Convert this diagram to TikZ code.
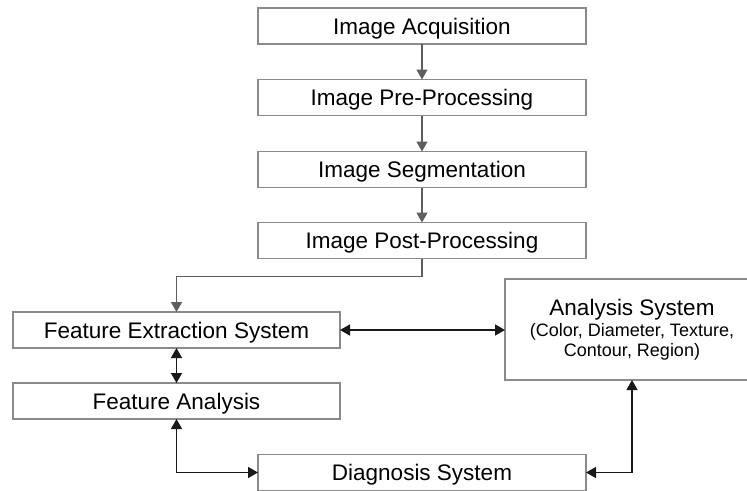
\documentclass[tikz,border=0pt]{standalone}
\usepackage{fontspec}
\setmainfont{Liberation Sans}
\usetikzlibrary{arrows.meta}
\definecolor{boxgray}{HTML}{8A8A8A}
\definecolor{arrgray}{HTML}{5E5E5E}

\begin{document}
\begin{tikzpicture}[x=1pt,y=-1pt,
  box/.style={draw=boxgray,line width=1.3pt,inner sep=0pt,outer sep=0pt,minimum height=36pt,text height=16pt,text depth=0pt,font=\fontsize{22.5}{27}\selectfont},
  flow/.style={draw=arrgray,line width=1.4pt,-{Triangle[length=10pt,width=11pt]}},
  link/.style={draw=black!90,line width=1.4pt,{Triangle[length=10pt,width=11pt]}-{Triangle[length=10pt,width=11pt]}}]
\clip (0,0) rectangle (747,490);
\node[box,minimum width=328pt] (acq) at (422,26) {Image Acquisition};
\node[box,minimum width=328pt] (pre) at (422,97.5) {Image Pre-Processing};
\node[box,minimum width=328pt] (seg) at (422,169.5) {Image Segmentation};
\node[box,minimum width=328pt] (post) at (422,240.5) {Image Post-Processing};
\node[box,minimum width=327pt] (fext) at (176.5,330) {Feature Extraction System};
\node[box,minimum width=327pt] (fana) at (176.5,401) {Feature Analysis};
\node[box,minimum width=328pt] (diag) at (422,472.5) {Diagnosis System};
\node[box,minimum width=254pt,minimum height=101pt,text height=,text depth=,align=center,font=\fontsize{18}{20}\selectfont] (anal) at (632,329.5)
  {{\fontsize{22.5}{27}\selectfont Analysis System}\\[1pt](Color, Diameter, Texture,\\Contour, Region)};
\draw[flow] (acq) -- (pre);
\draw[flow] (pre) -- (seg);
\draw[flow] (seg) -- (post);
\draw[flow] (post.south) -- ++(0,18) -| (fext.north);
\draw[link] (fext) -- (fana);
\draw[link] (fext.east) -- (fext.east -| anal.west);
\draw[link] (fana.south) |- (diag.west);
\draw[link] (anal.south) |- (diag.east);
\end{tikzpicture}
\end{document}
